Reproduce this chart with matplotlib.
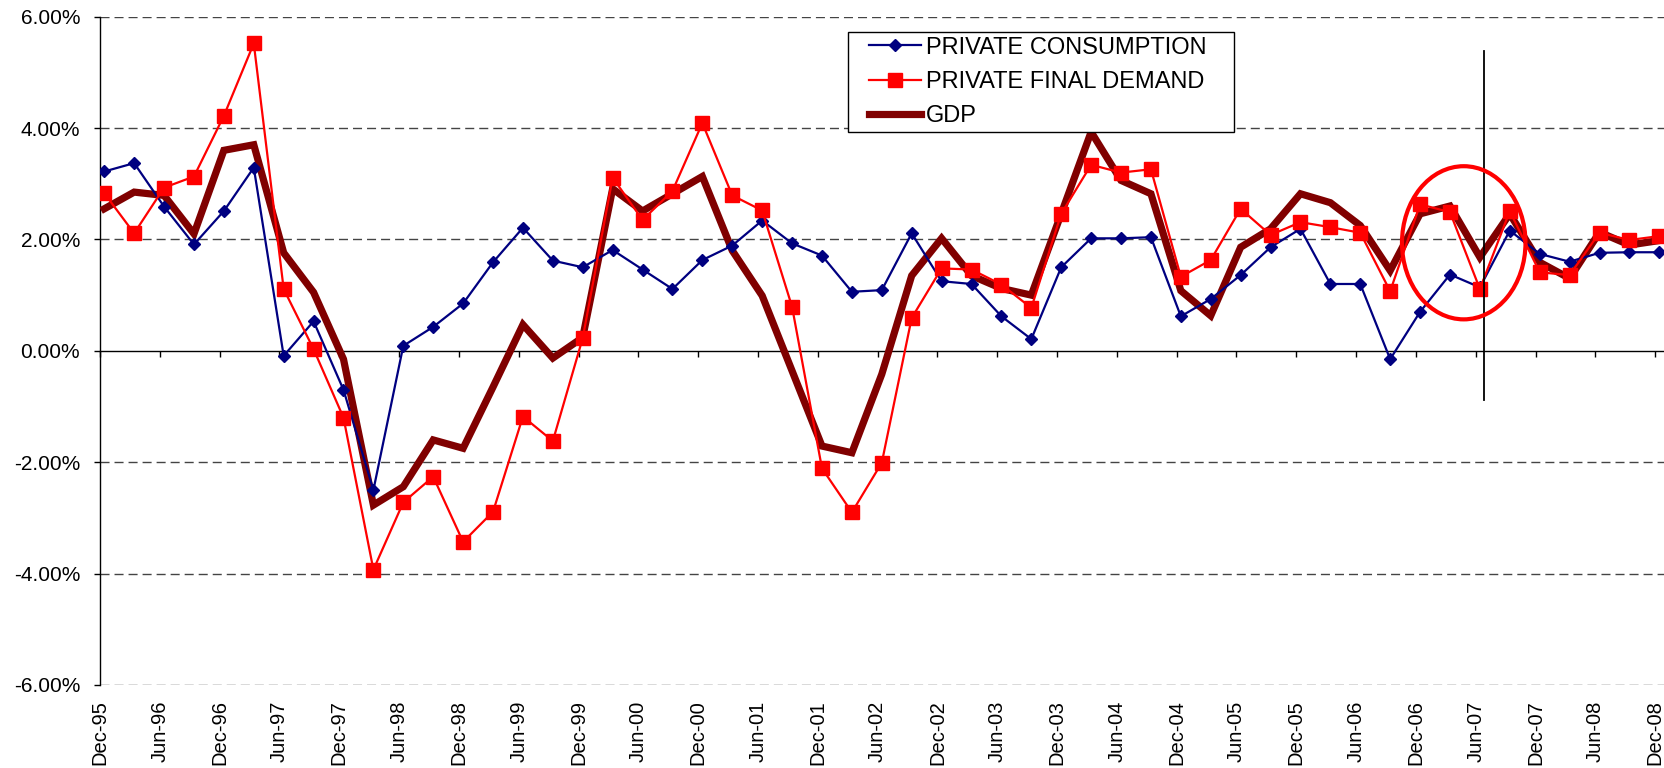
import numpy as np
import matplotlib
matplotlib.use("Agg")
import matplotlib.pyplot as plt
from matplotlib.patches import Ellipse
from matplotlib.ticker import FuncFormatter
from matplotlib.legend_handler import HandlerLine2D

plt.rcParams['font.family'] = ['Liberation Sans', 'DejaVu Sans']

# Quarterly periods Dec-95 ... Dec-08 (plus Mar-09 which runs off the right edge)
quarters = []
for y in range(1995, 2010):
    for m in ["Mar", "Jun", "Sep", "Dec"]:
        quarters.append(f"{m}-{y % 100:02d}")
quarters = quarters[quarters.index("Dec-95"):quarters.index("Mar-09") + 1]

private_consumption = [3.22, 3.37, 2.59, 1.91, 2.51, 3.29, -0.09, 0.53, -0.70, -2.50,
                       0.09, 0.43, 0.85, 1.59, 2.21, 1.62, 1.50, 1.81, 1.46, 1.11,
                       1.63, 1.89, 2.34, 1.93, 1.71, 1.06, 1.09, 2.11, 1.25, 1.20,
                       0.62, 0.21, 1.50, 2.02, 2.02, 2.04, 0.62, 0.93, 1.36, 1.86,
                       2.19, 1.20, 1.20, -0.15, 0.70, 1.37, 1.14, 2.16, 1.74, 1.60,
                       1.76, 1.77, 1.77, 1.77]
private_final_demand = [2.83, 2.11, 2.93, 3.13, 4.22, 5.52, 1.11, 0.03, -1.20, -3.93,
                        -2.72, -2.26, -3.43, -2.89, -1.18, -1.62, 0.23, 3.11, 2.35, 2.87,
                        4.09, 2.79, 2.52, 0.79, -2.11, -2.90, -2.01, 0.59, 1.48, 1.46,
                        1.19, 0.77, 2.46, 3.34, 3.20, 3.26, 1.33, 1.63, 2.55, 2.08,
                        2.31, 2.22, 2.12, 1.07, 2.63, 2.49, 1.11, 2.51, 1.41, 1.36,
                        2.12, 1.99, 2.06, 2.27]
gdp = [2.55, 2.85, 2.79, 2.10, 3.60, 3.70, 1.76, 1.05, -0.15, -2.77,
       -2.44, -1.60, -1.75, -0.65, 0.47, -0.13, 0.24, 2.91, 2.51, 2.82,
       3.13, 1.80, 0.99, -0.36, -1.71, -1.83, -0.42, 1.35, 2.02, 1.35,
       1.12, 1.00, 2.46, 3.93, 3.06, 2.82, 1.08, 0.63, 1.86, 2.19,
       2.82, 2.66, 2.25, 1.44, 2.46, 2.60, 1.68, 2.46, 1.59, 1.30,
       2.13, 1.90, 1.98, 2.20]

y_ticks = [-6, -4, -2, 0, 2, 4, 6]
tick_labels = quarters[0:53:2]          # Dec-95, Jun-96, ... Dec-08

# annotation positions (in quarter units / percent)
marker_period = "Jun-07"
vline_offset = 0.27
vline_range = (-0.89, 5.38)
ellipse_center = (45.6, 1.94)
ellipse_size = (4.13, 2.75)

fig = plt.figure(figsize=(16.65, 7.68), dpi=100)
left, bottom, top = 0.0601, 0.1081, 0.9783
ax = fig.add_axes([left, bottom, 1.0 - left, top - bottom])

n = len(quarters)
x = np.arange(n) + 0.14

grid_kw = dict(color='#444444', lw=1.0, ls=(0, (6.5, 3.6)), zorder=1)
for yv in y_ticks:
    if yv != 0:
        ax.axhline(yv, **grid_kw)

l3, = ax.plot(x, gdp, color='#800000', lw=5.2, solid_joinstyle='miter', zorder=3, label='GDP')
l1, = ax.plot(x, private_consumption, color='#000080', lw=1.6, marker='D', ms=6.6,
              zorder=4, label='PRIVATE CONSUMPTION')
l2, = ax.plot(x, private_final_demand, color='#FF0000', lw=1.6, marker='s', ms=10,
              zorder=5, label='PRIVATE FINAL DEMAND')

ax.set_xlim(0, 52.33)
ax.set_ylim(-6, 6)

# vertical marker line and highlight ellipse
xv = quarters.index(marker_period) + vline_offset
ax.plot([xv, xv], list(vline_range), color='black', lw=1.3, zorder=6)
ax.add_patch(Ellipse(ellipse_center, ellipse_size[0], ellipse_size[1], fill=False,
                     edgecolor='#FF0000', lw=3.0, zorder=7))

# axes styling
for s in ['top', 'right']:
    ax.spines[s].set_visible(False)
ax.spines['left'].set_linewidth(1.0)
ax.spines['bottom'].set_position(('data', 0))
ax.spines['bottom'].set_linewidth(1.0)
ax.set_yticks(y_ticks)
ax.yaxis.set_major_formatter(FuncFormatter(lambda v, p: f"{v:.2f}%"))
ax.tick_params(axis='y', direction='out', length=4.3, width=1, pad=10, labelsize=15)

tick_pos = [quarters.index(t) for t in tick_labels]
ax.set_xticks(tick_pos)
ax.tick_params(axis='x', direction='out', length=4, width=1, labelbottom=False)

sec = ax.secondary_xaxis(0.0)
sec.set_xticks(tick_pos)
sec.set_xticklabels(tick_labels, rotation=90, fontsize=14.5)
sec.tick_params(axis='x', length=0, pad=11)
sec.spines['bottom'].set_visible(False)

fs_leg = 17
hmap = {h: HandlerLine2D(xpad=0.7) for h in (l1, l2, l3)}
leg = fig.legend(handles=[l1, l2, l3], loc='upper left',
                 bbox_to_anchor=(0.5093, 0.8255, 0.2318, 0.1328), mode='expand',
                 borderaxespad=0, fancybox=False, edgecolor='black', framealpha=1,
                 fontsize=fs_leg, handlelength=2.9, handletextpad=0.2, labelspacing=0.51,
                 borderpad=0.2, handler_map=hmap)
leg.get_frame().set_linewidth(1.0)

fig.savefig("out.png", dpi=100)
